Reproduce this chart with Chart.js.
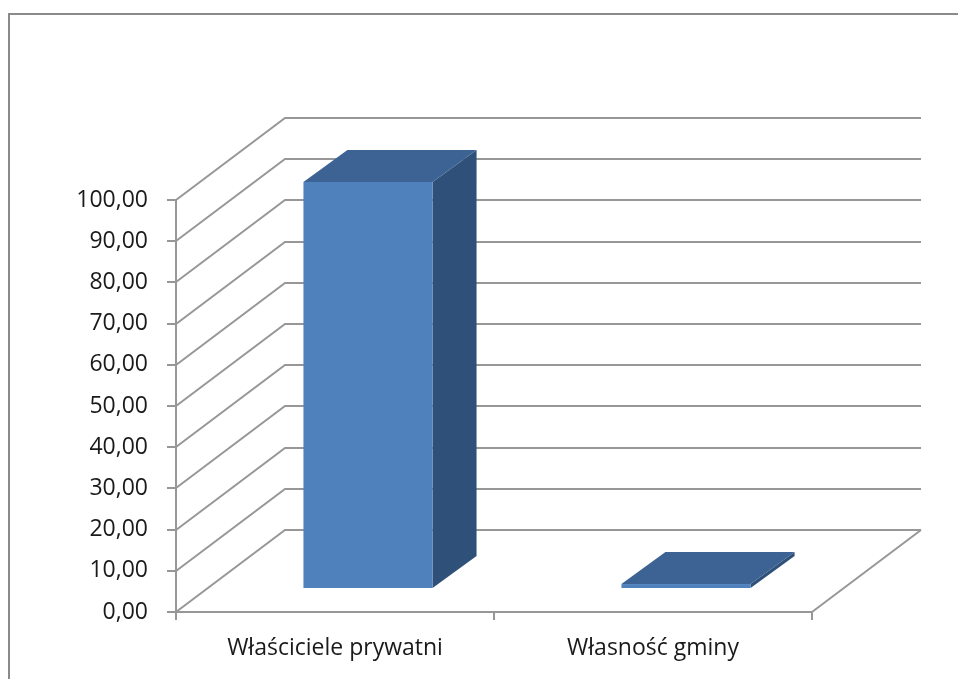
<!DOCTYPE html>
<html>
<head>
<meta charset="utf-8">
<script src="https://cdn.jsdelivr.net/npm/chart.js@4/dist/chart.umd.min.js"></script>
<style>
  html, body { margin: 0; padding: 0; background: #fff; }
  canvas { display: block; }
</style>
</head>
<body>
<canvas id="ownership-chart" width="958" height="679"></canvas>
<script>
const categories = ["Właściciele prywatni", "Własność gminy"];
const shares = [98.8, 1.2];
const yMin = 0;
const yMax = 100;
const yStep = 10;

// oblique "3D" look
const WALL_DX = 109, WALL_DY = 82;   // depth of the back wall
const BAR_DX = 33, BAR_DY = 23;      // where the bar front sits
const BAR_DEPTH_X = 44, BAR_DEPTH_Y = 32;
const GRID = "#979797";
const FONT = { family: "'Open Sans', sans-serif", size: 23 };

const wall3d = {
  id: "wall3d",
  beforeDraw(chart) {
    const c = chart.ctx;
    c.save();
    c.fillStyle = "#fff";
    c.fillRect(0, 0, chart.width, chart.height);
    c.strokeStyle = "#8a8a8a";
    c.lineWidth = 2;
    c.strokeRect(9, 14, chart.width + 20, chart.height + 20);
    c.restore();
  },
  beforeDatasetsDraw(chart) {
    const c = chart.ctx;
    const y = chart.scales.y;
    const area = chart.chartArea;
    c.save();
    c.strokeStyle = GRID;
    c.lineWidth = 2;
    c.beginPath();
    for (let v = yMin; v <= yMax; v += yStep) {
      const py = Math.round(y.getPixelForValue(v));
      c.moveTo(area.left, py);
      c.lineTo(area.left + WALL_DX, py - WALL_DY);
      c.lineTo(area.right + WALL_DX, py - WALL_DY);
    }
    const base = Math.round(y.getPixelForValue(yMin));
    c.moveTo(area.right, base);
    c.lineTo(area.right + WALL_DX, base - WALL_DY);
    c.stroke();
    c.restore();
  },
  afterDatasetsDraw(chart) {
    const c = chart.ctx;
    const meta = chart.getDatasetMeta(0);
    c.save();
    meta.data.forEach((bar) => {
      const p = bar.getProps(["x", "y", "base", "width"], true);
      const l = p.x - p.width / 2 + BAR_DX;
      const r = p.x + p.width / 2 + BAR_DX;
      const t = p.y - BAR_DY;
      const b = p.base - BAR_DY;
      // side
      c.fillStyle = "#2f5179";
      c.beginPath();
      c.moveTo(r, t);
      c.lineTo(r + BAR_DEPTH_X, t - BAR_DEPTH_Y);
      c.lineTo(r + BAR_DEPTH_X, b - BAR_DEPTH_Y);
      c.lineTo(r, b);
      c.closePath();
      c.fill();
      // top
      c.fillStyle = "#3c6393";
      c.beginPath();
      c.moveTo(l, t);
      c.lineTo(l + BAR_DEPTH_X, t - BAR_DEPTH_Y);
      c.lineTo(r + BAR_DEPTH_X, t - BAR_DEPTH_Y);
      c.lineTo(r, t);
      c.closePath();
      c.fill();
      // front
      c.fillStyle = "#4f81bd";
      c.fillRect(l, t, r - l, b - t);
    });
    c.restore();
  },
};

new Chart(document.getElementById("ownership-chart"), {
  type: "bar",
  data: {
    labels: categories,
    datasets: [
      {
        data: shares,
        backgroundColor: "rgba(0,0,0,0)",
        borderWidth: 0,
        barPercentage: 0.406,
        categoryPercentage: 1,
      },
    ],
  },
  options: {
    responsive: false,
    animation: false,
    layout: { padding: { left: 0, top: 200, right: 146, bottom: 0 } },
    plugins: {
      legend: { display: false },
      tooltip: { enabled: false },
    },
    scales: {
      x: {
        grid: {
          offset: true,
          drawOnChartArea: false,
          color: GRID,
          lineWidth: 2,
          tickLength: 8,
        },
        border: { color: GRID, width: 2 },
        ticks: { font: FONT, color: "#1a1a1a", padding: 15 },
        afterFit: (axis) => {
          axis.height = 67;
        },
      },
      y: {
        min: yMin,
        max: yMax,
        grid: {
          drawOnChartArea: false,
          color: GRID,
          lineWidth: 2,
          tickLength: 9,
        },
        border: { color: GRID, width: 2 },
        ticks: {
          stepSize: yStep,
          font: FONT,
          color: "#1a1a1a",
          padding: 19,
          callback: (v) => v.toFixed(2).replace(".", ","),
        },
        afterFit: (axis) => {
          axis.width = 176;
        },
      },
    },
  },
  plugins: [wall3d],
});
</script>
</body>
</html>
